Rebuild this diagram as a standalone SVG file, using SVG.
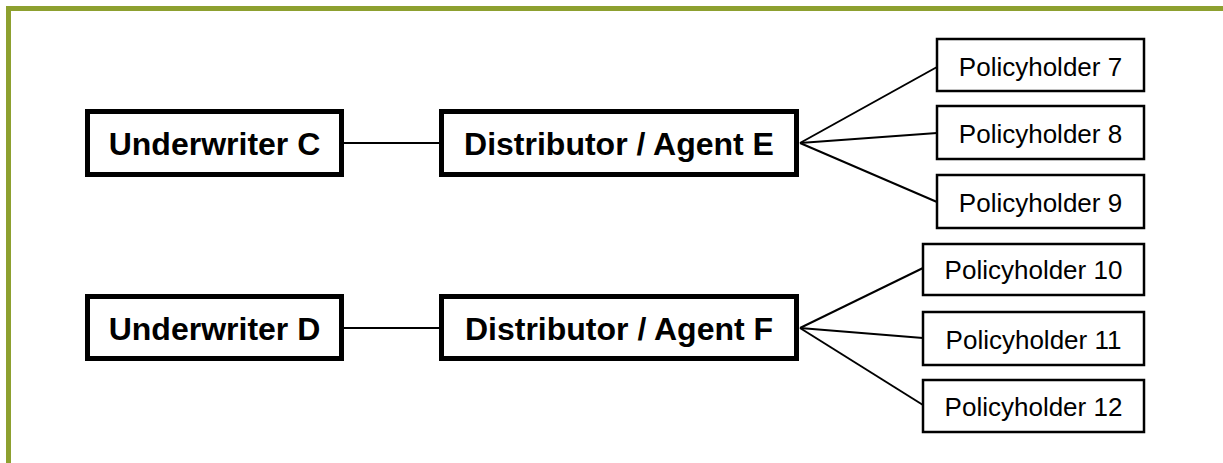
<svg xmlns="http://www.w3.org/2000/svg" width="1223" height="463" viewBox="0 0 1223 463">
<style>
.frame{fill:none;stroke:#8DA02F;stroke-width:5}
.major rect{fill:#fff;stroke:#000;stroke-width:5}
.minor rect{fill:#fff;stroke:#000;stroke-width:2.5}
.major text{font-family:"Liberation Sans",Arial,sans-serif;font-weight:bold;font-size:32px;text-anchor:middle;fill:#000}
.minor text{font-family:"Liberation Sans",Arial,sans-serif;font-size:26px;text-anchor:middle;fill:#000}
.conn line{stroke:#000;stroke-width:2}
</style>
<rect width="1223" height="463" fill="#fff"/>
<path class="frame" d="M8.5,470 V8.5 H1230"/>
<g id="connectors" class="conn">
<line x1="344" y1="143" x2="441" y2="143"/>
<line x1="344" y1="328" x2="441" y2="328"/>
<line x1="800" y1="143" x2="937" y2="67"/>
<line x1="800" y1="143" x2="937" y2="133"/>
<line x1="800" y1="143" x2="937" y2="202"/>
<line x1="800" y1="328" x2="923" y2="268"/>
<line x1="800" y1="328" x2="923" y2="338"/>
<line x1="800" y1="328" x2="923" y2="405"/>
</g>
<g id="underwriter-c" class="major"><rect x="87.5" y="111.5" width="254" height="63"/><text x="214.5" y="155">Underwriter C</text></g>
<g id="distributor-e" class="major"><rect x="441.5" y="111.5" width="355" height="63"/><text x="619" y="155">Distributor / Agent E</text></g>
<g id="underwriter-d" class="major"><rect x="87.5" y="296.5" width="254" height="62"/><text x="214.5" y="340">Underwriter D</text></g>
<g id="distributor-f" class="major"><rect x="441.5" y="296.5" width="355" height="62"/><text x="619" y="340">Distributor / Agent F</text></g>
<g id="policyholder-7" class="minor"><rect x="937" y="39" width="207" height="52"/><text x="1040.5" y="76">Policyholder 7</text></g>
<g id="policyholder-8" class="minor"><rect x="937" y="106" width="207" height="53"/><text x="1040.5" y="143">Policyholder 8</text></g>
<g id="policyholder-9" class="minor"><rect x="937" y="175" width="207" height="53"/><text x="1040.5" y="212">Policyholder 9</text></g>
<g id="policyholder-10" class="minor"><rect x="923" y="244" width="221" height="51"/><text x="1033.5" y="279">Policyholder 10</text></g>
<g id="policyholder-11" class="minor"><rect x="923" y="312" width="221" height="53"/><text x="1033.5" y="349">Policyholder 11</text></g>
<g id="policyholder-12" class="minor"><rect x="923" y="380" width="221" height="52"/><text x="1033.5" y="416">Policyholder 12</text></g>
</svg>
